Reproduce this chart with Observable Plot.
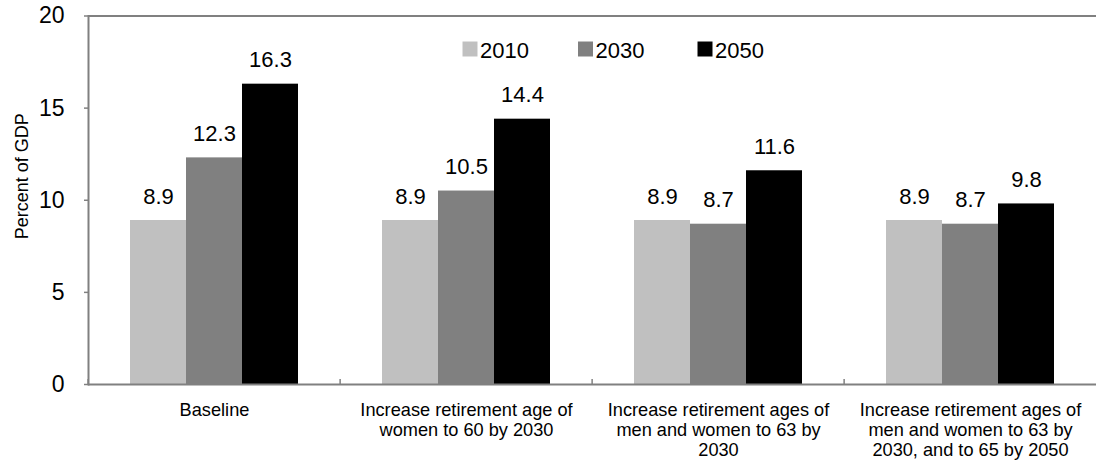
<!DOCTYPE html>
<html>
<head>
<meta charset="utf-8">
<script src="https://cdn.jsdelivr.net/npm/d3@7"></script>
<script src="https://cdn.jsdelivr.net/npm/@observablehq/plot@0.6"></script>
<style>
  html, body { margin: 0; padding: 0; background: #fff; }
  #chart svg { display: block; }
</style>
</head>
<body>
<div id="chart"></div>
<script>
// Pension spending scenarios, percent of GDP
const categories = [
  "Baseline",
  "Increase retirement age of women to 60 by 2030",
  "Increase retirement ages of men and women to 63 by 2030",
  "Increase retirement ages of men and women to 63 by 2030, and to 65 by 2050"
];
const categoryLabels = [
  "Baseline",
  "Increase retirement age of\nwomen to 60 by 2030",
  "Increase retirement ages of\nmen and women to 63 by\n2030",
  "Increase retirement ages of\nmen and women to 63 by\n2030, and to 65 by 2050"
];
const years = ["2010", "2030", "2050"];
const values2010 = [8.9, 8.9, 8.9, 8.9];
const values2030 = [12.3, 10.5, 8.7, 8.7];
const values2050 = [16.3, 14.4, 11.6, 9.8];
const yTicks = [0, 5, 10, 15, 20];
const yLabel = "Percent of GDP";

const seriesValues = [values2010, values2030, values2050];
const rows = categories.flatMap((category, i) =>
  years.map((year, j) => ({category, year, value: seriesValues[j][i]}))
);
const labelOf = new Map(categories.map((c, i) => [c, categoryLabels[i]]));

const W = 1099, H = 461;
const marginLeft = 86, marginRight = 2, marginTop = 15.5, marginBottom = 77;
const band = (W - marginLeft - marginRight) / categories.length;
const grey = "#808080";
const font = "'Liberation Sans', Arial, sans-serif";
const colors = ["#c0c0c0", "#808080", "#000000"];

// legend entries inside the frame, along the top
const legendX = [381.5, 497, 616.5];
const legendMarks = years.flatMap((year, i) => [
  Plot.dot([year], {
    frameAnchor: "top-left", dx: legendX[i], dy: 33,
    symbol: "square", r: 15 / Math.sqrt(Math.PI), fill: colors[i], stroke: null,
    facet: "super"
  }),
  Plot.text([year], {
    frameAnchor: "top-left", dx: legendX[i] + 10, dy: 34.5,
    text: d => d, textAnchor: "start", lineAnchor: "middle",
    fontSize: 22, fill: "#000", facet: "super"
  })
]);

const chart = Plot.plot({
  width: W,
  height: H,
  marginLeft, marginRight, marginTop, marginBottom,
  style: {fontFamily: font, background: "#fff", color: "#000"},
  fx: {domain: categories, padding: 0, axis: null},
  x: {domain: years, paddingInner: 0, paddingOuter: 0.73, axis: null},
  y: {domain: [0, 20], axis: null},
  color: {domain: years, range: colors},
  marks: [
    Plot.barY(rows, {fx: "category", x: "year", y: "value", fill: "year"}),
    Plot.text(rows, {
      fx: "category", x: "year", y: "value",
      text: d => d.value.toFixed(1),
      dy: -24, fontSize: 22, fill: "#000"
    }),
    // frame lines
    Plot.ruleY([0], {stroke: grey, strokeWidth: 2}),
    Plot.ruleY([20], {stroke: grey, strokeWidth: 2}),
    Plot.frame({anchor: "left", stroke: grey, strokeWidth: 2, facet: "super"}),
    // y axis
    Plot.axisY({
      ticks: yTicks, tickSize: 4, tickPadding: 20, fontSize: 23,
      stroke: grey, strokeWidth: 1.5, label: null, fill: "#000"
    }),
    Plot.text([yLabel], {
      frameAnchor: "left", dx: -66, dy: -24, rotate: -90,
      textAnchor: "middle", lineAnchor: "middle",
      fontSize: 18, fill: "#000", facet: "super"
    }),
    // category labels
    Plot.axisFx({
      anchor: "bottom", tickSize: 0, tickPadding: 17,
      tickFormat: d => labelOf.get(d), fontSize: 18.2, lineHeight: 1.1,
      label: null, fill: "#000"
    }),
    // category boundary ticks
    Plot.axisFx({
      anchor: "bottom", tickSize: 5, dy: -5, dx: -band / 2,
      tickFormat: () => "", label: null, stroke: grey, strokeWidth: 1.5
    }),
    ...legendMarks
  ]
});

document.getElementById("chart").appendChild(chart);
</script>
</body>
</html>
